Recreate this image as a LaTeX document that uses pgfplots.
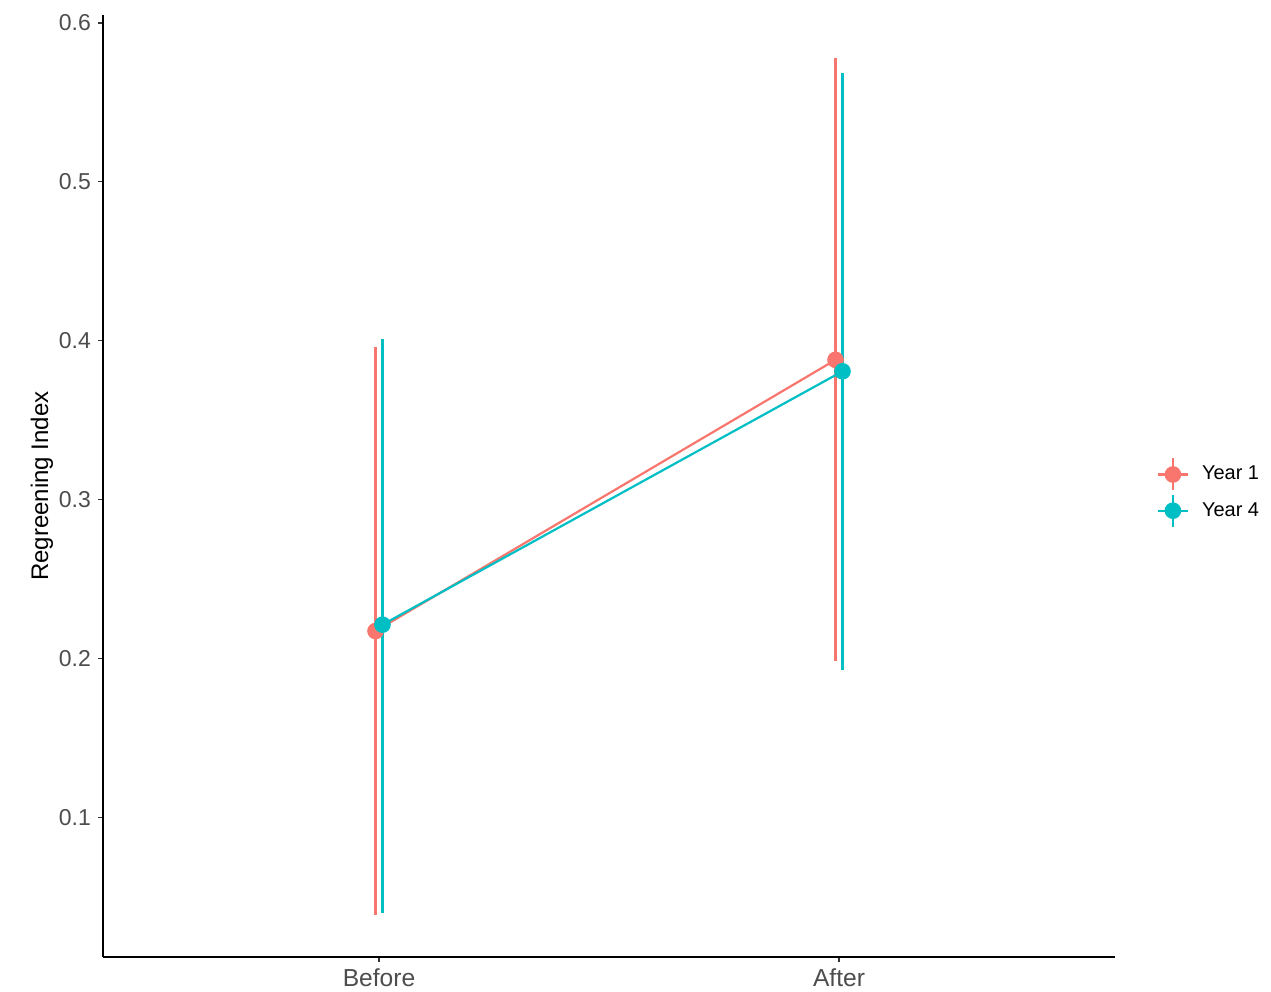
\documentclass[border=0pt]{standalone}
\usepackage{pgfplots}
\pgfplotsset{compat=1.18}
\usepackage{fontspec}
\setmainfont{Liberation Sans}
\definecolor{c1}{HTML}{F8766D}
\definecolor{c4}{HTML}{00BFC4}
\definecolor{tickgrey}{HTML}{4D4D4D}
\pgfplotsset{
  crosskey/.style={legend image code/.code={
    \draw[line width=1.1pt] (0pt,0pt) -- (15pt,0pt);
    \draw[line width=1.1pt] (7.5pt,-8pt) -- (7.5pt,8pt);
    \fill (7.5pt,0pt) circle (3.6pt);
    \path (19.5pt,0pt);}}
}
\begin{document}
\begin{tikzpicture}
\useasboundingbox (-51.5pt,-17.5pt) rectangle (584pt,478.5pt);
\begin{axis}[
  scale only axis,
  width=506pt, height=471pt,
  xmin=0.4, xmax=2.6,
  ymin=0.012, ymax=0.605,
  axis x line*=bottom, axis y line*=left,
  axis line style={-, black, line width=1pt},
  xtick={1,2}, xticklabels={Before,After},
  ytick={0.1,0.2,0.3,0.4,0.5,0.6},
  yticklabel style={/pgf/number format/fixed,/pgf/number format/precision=1},
  xticklabel style={font=\fontsize{12.3}{14}\selectfont, yshift=0pt},
  /pgf/number format/assume math mode=true,
  tick align=outside, major tick length=2.5pt,
  tick style={color=black!80, line width=0.6pt},
  ticklabel style={font=\fontsize{11.5}{13}\selectfont, text=tickgrey},
  ylabel={Regreening Index},
  ylabel style={font=\fontsize{12}{14}\selectfont, text=black, yshift=-4pt},
  legend style={at={(1.035,0.493)}, anchor=west, draw=none, fill=none,
    font=\fontsize{10}{12}\selectfont, row sep=1pt},
  legend cell align=left,
  clip=false,
]
\addplot+[c1, line width=1.1pt, mark=*, mark size=3.6pt, mark options={solid, fill=c1, draw=c1},
  crosskey,
  error bars/.cd, y dir=both, y explicit, error mark=none,
  error bar style={line width=1.2pt, c1}
] table[x=x, y=y, y error plus=ep, y error minus=em] {
x y ep em
0.9924 0.2172 0.1790 0.1788
1.9924 0.3879 0.1899 0.1896
};
\addlegendentry{Year 1}
\addplot+[c4, line width=1.1pt, mark=*, mark size=3.6pt, mark options={solid, fill=c4, draw=c4},
  crosskey,
  error bars/.cd, y dir=both, y explicit, error mark=none,
  error bar style={line width=1.2pt, c4}
] table[x=x, y=y, y error plus=ep, y error minus=em] {
x y ep em
1.0076 0.2212 0.1799 0.1818
2.0076 0.3807 0.1876 0.1878
};
\addlegendentry{Year 4}
\end{axis}
\end{tikzpicture}
\end{document}
